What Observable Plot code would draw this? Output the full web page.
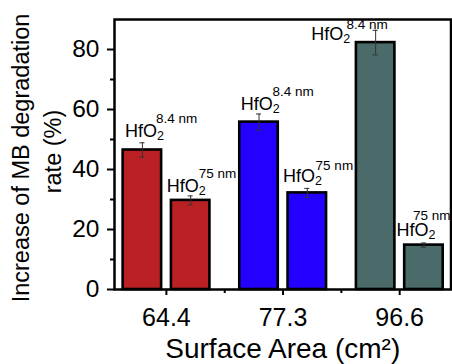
<!DOCTYPE html>
<html><head><meta charset="utf-8">
<script src="https://cdn.jsdelivr.net/npm/d3@7"></script>
<script src="https://cdn.jsdelivr.net/npm/@observablehq/plot@0.6"></script>
<style>body{margin:0;background:#fff} svg{display:block}</style>
</head><body><div id="chart"></div>
<script>
// ---- data ----
const surfaceAreas = ["64.4", "77.3", "96.6"];
const films = ["8.4 nm", "75 nm"];
const rate84 = [46.5, 55.8, 82.3];
const err84 = [2.4, 2.7, 4.1];
const rate75 = [29.7, 32.2, 14.8];
const err75 = [1.5, 1.5, 0.7];
const groupColors = ["#bb2025", "#2300ff", "#4a6b69"];
const yTicks = [0, 20, 40, 60, 80];
const yMinorTicks = [10, 30, 50, 70];
const xTitle = "Surface Area (cm²)";
const yTitleLines = ["Increase of MB degradation", "rate (%)"];

// ---- layout (not data) ----
const barOffset = [-0.206, 0.208];
const barHalf = 0.165;
const capHalf = 0.022;
const labelLayout = [
  {dx: -17.5, dy: -6, sx: 30.7, sy: -14},
  {dx: -23.8, dy: -4.3, sx: 31.3, sy: -13.4},
  {dx: -18.3, dy: -4.3, sx: 31.3, sy: -14},
  {dx: -24.2, dy: -6, sx: 32, sy: -12.7},
  {dx: -64.3, dy: 10, sx: 34.7, sy: -11},
  {dx: -27.5, dy: -6.6, sx: 16, sy: -16}
];
const yTitleLayout = [{dx: -85.7, dy: 3.5}, {dx: -53.5, dy: -3}];

const rows = [];
surfaceAreas.forEach((area, i) => {
  films.forEach((film, j) => {
    const value = j === 0 ? rate84[i] : rate75[i];
    const err = j === 0 ? err84[i] : err75[i];
    const cx = (i + 1) + barOffset[j];
    rows.push({area, film, value, err, cx, x1: cx - barHalf, x2: cx + barHalf,
      lo: value - err, hi: value + err, color: groupColors[i]});
  });
});

const labelMarks = rows.flatMap((r, k) => {
  const L = labelLayout[k];
  const base = {x: "cx", y: "hi", textAnchor: "start", lineAnchor: "bottom", fill: "black"};
  return [
    Plot.text([r], {...base, text: () => "HfO", dx: L.dx, dy: L.dy, fontSize: 18}),
    Plot.text([r], {...base, text: () => "2", dx: L.dx + 32, dy: L.dy + 3, fontSize: 12.5}),
    Plot.text([r], {...base, text: d => d.film, dx: L.dx + L.sx + 0.5, dy: L.dy + L.sy, fontSize: 13.5})
  ];
});

const yTitleMarks = yTitleLines.map((line, k) =>
  Plot.text([line], {frameAnchor: "left", text: d => d, rotate: -90, lineAnchor: "bottom", textAnchor: "middle",
    dx: yTitleLayout[k].dx, dy: yTitleLayout[k].dy, fontSize: 23.5})
);

const chart = Plot.plot({
  width: 452,
  height: 364,
  marginLeft: 114,
  marginRight: 1.5,
  marginTop: 19,
  marginBottom: 75,
  style: {fontFamily: "'Liberation Sans', Arial, sans-serif", fontSize: "24px", color: "black", background: "white"},
  x: {type: "linear", domain: [0.555, 3.44], axis: null},
  y: {domain: [0, 90], axis: null},
  marks: [
    Plot.rect(rows, {x1: "x1", x2: "x2", y1: 0, y2: "value", fill: "color", stroke: "black", strokeWidth: 2.6}),
    Plot.ruleX(rows, {x: "cx", y1: "lo", y2: "hi", stroke: "#333", strokeWidth: 1}),
    Plot.ruleY(rows, {y: "hi", x1: d => d.cx - capHalf, x2: d => d.cx + capHalf, stroke: "#333", strokeWidth: 1}),
    Plot.ruleY(rows, {y: "lo", x1: d => d.cx - capHalf, x2: d => d.cx + capHalf, stroke: "#333", strokeWidth: 1}),
    ...labelMarks,
    Plot.frame({stroke: "black", strokeWidth: 2.5}),
    Plot.axisY(yTicks, {tickSize: 7, tickPadding: 8, fontSize: 24.5, strokeWidth: 2, label: null}),
    Plot.axisY(yMinorTicks, {tickSize: 4, tickFormat: () => "", strokeWidth: 2, label: null}),
    Plot.axisX([1, 2, 3], {tickSize: 6, tickPadding: 13, fontSize: 25, strokeWidth: 2, tickFormat: d => surfaceAreas[d - 1], label: null}),
    Plot.axisX([1.5, 2.5], {tickSize: 4, tickFormat: () => "", strokeWidth: 2, label: null}),
    Plot.text([xTitle], {frameAnchor: "bottom", text: d => d, dy: 68, lineAnchor: "bottom", fontSize: 28}),
    ...yTitleMarks
  ]
});
document.getElementById("chart").appendChild(chart);
</script>
</body></html>
